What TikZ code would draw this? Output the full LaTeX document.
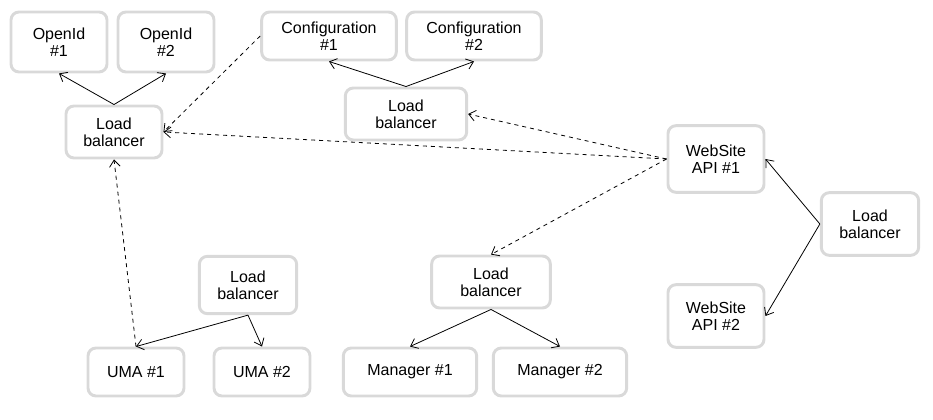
\documentclass[tikz,border=0pt]{standalone}
\usepackage{fontspec}
\setmainfont{Liberation Sans}
\usetikzlibrary{arrows.meta}
\definecolor{boxgray}{RGB}{217,217,217}
\tikzset{
    box/.style={draw=boxgray, line width=2.2pt, rounded corners=6pt, fill=white,
        align=center, inner sep=0pt, font=\fontsize{12}{12.75}\selectfont},
    link/.style={black, line width=0.6pt, ->},
    dlink/.style={black, line width=0.6pt, ->, dashed}
}

\begin{document}
\begin{tikzpicture}[x=0.75pt, y=-0.75pt, >={Straight Barb[length=5pt,width=8pt]}]
    \useasboundingbox (0,0) rectangle (933,420);
    % openid
    \node[box, minimum width=72pt, minimum height=45pt] (openid1) at (59,42) {OpenId\\\#1};
    \node[box, minimum width=72pt, minimum height=45pt] (openid2) at (166,42) {OpenId\\\#2};
    \node[box, minimum width=72pt, minimum height=39pt] (lbopenid) at (114,132) {Load\\balancer};
    % configuration
    \node[box, minimum width=101pt, minimum height=36pt] (config1) at (329,36) {Configuration\\\#1};
    \node[box, minimum width=101pt, minimum height=36pt] (config2) at (474,36) {Configuration\\\#2};
    \node[box, minimum width=91pt, minimum height=39pt] (lbconfig) at (406,114) {Load\\balancer};
    % website
    \node[box, minimum width=72pt, minimum height=50pt] (web1) at (716,159) {WebSite\\API \#1};
    \node[box, minimum width=72pt, minimum height=47pt] (web2) at (716,316) {WebSite\\API \#2};
    \node[box, minimum width=73pt, minimum height=47pt] (lbweb) at (870,224) {Load\\balancer};
    % uma
    \node[box, minimum width=73pt, minimum height=43pt] (lbuma) at (248,285) {Load\\balancer};
    \node[box, minimum width=72pt, minimum height=36pt] (uma1) at (136,372) {UMA \#1};
    \node[box, minimum width=72pt, minimum height=36pt] (uma2) at (262,372) {UMA \#2};
    % manager
    \node[box, minimum width=89pt, minimum height=39pt] (lbmanager) at (491,282) {Load\\balancer};
    \node[box, minimum width=100pt, minimum height=36pt] (manager1) at (410,372) {Manager \#1};
    \node[box, minimum width=100pt, minimum height=36pt] (manager2) at (560,372) {Manager \#2};

    % balancers to servers
    \draw[link] (lbopenid.north) -- (openid1.south);
    \draw[link] (lbopenid.north) -- (openid2.south);
    \draw[link] (lbconfig.north) -- (config1.south);
    \draw[link] (lbconfig.north) -- (config2.south);
    \draw[link] (lbweb.west) -- (web1.east);
    \draw[link] (lbweb.west) -- (web2.east);
    \draw[link] (lbuma.south) -- (uma1.north);
    \draw[link] (lbuma.south) -- (uma2.north);
    \draw[link] (lbmanager.south) -- (manager1.north);
    \draw[link] (lbmanager.south) -- (manager2.north);
    % calls
    \draw[dlink] (config1.west) -- (lbopenid.east);
    \draw[dlink] (web1.west) -- (lbopenid.east);
    \draw[dlink] (web1.west) -- (lbconfig.east);
    \draw[dlink] (web1.west) -- (lbmanager.north);
    \draw[dlink] (uma1.north) -- (lbopenid.south);
\end{tikzpicture}
\end{document}
